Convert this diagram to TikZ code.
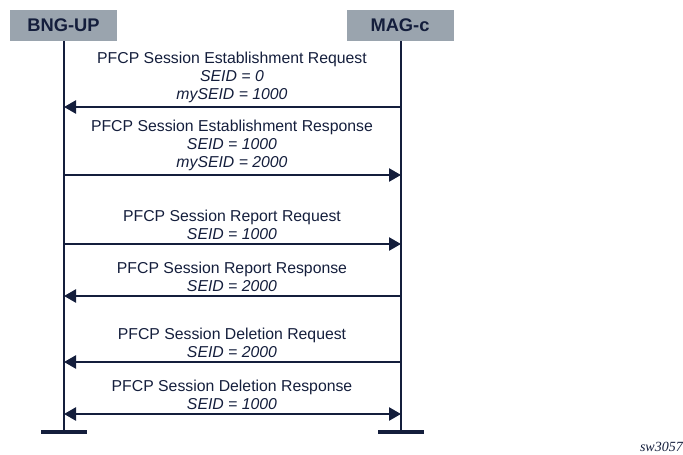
\documentclass[tikz,border=0pt]{standalone}
\usepackage{fontspec}
\setmainfont{Liberation Sans}
\newfontfamily\serifit{Liberation Serif}
\usetikzlibrary{arrows.meta}
\definecolor{navy}{HTML}{141E3C}
\definecolor{hdrgray}{HTML}{9AA4AE}
\tikzset{
  hdr/.style={fill=hdrgray, draw=none, minimum width=107pt, minimum height=31pt, inner sep=0pt, font=\fontsize{18.3}{20}\selectfont\bfseries, text=navy},
  life/.style={draw=navy, line width=2.8pt},
  foot/.style={draw=navy, line width=4.5pt},
  msg/.style={draw=navy, line width=2.4pt, -{Triangle[length=12pt,width=13pt]}},
  lbl/.style={font=\fontsize{15.8}{18}\selectfont, text=navy, align=center, inner sep=0pt, anchor=south}
}
\begin{document}
\begin{tikzpicture}[x=1pt,y=-1pt]
\useasboundingbox (0,0) rectangle (683,455);
\node[hdr] (bng) at (63.5,25.5) {BNG-UP};
\node[hdr] (mag) at (400,25.5) {MAG-c};
\coordinate (bngend) at (64,432);
\coordinate (magend) at (401,432);
\draw[life] (bng.south -| bngend) -- (bngend);
\draw[life] (mag.south -| magend) -- (magend);
\draw[foot] ([xshift=-23pt]bngend) -- ([xshift=23pt]bngend);
\draw[foot] ([xshift=-23pt]magend) -- ([xshift=23pt]magend);
\foreach \n/\y in {1/107,2/175,3/244,4/296,5/362,6/414}{
  \coordinate (b\n) at (64,\y);
  \coordinate (m\n) at (401,\y);
}
\draw[msg] (m1) -- (b1);
\draw[msg] (b2) -- (m2);
\draw[msg] (b3) -- (m3);
\draw[msg] (m4) -- (b4);
\draw[msg] (m5) -- (b5);
\draw[msg, {Triangle[length=12pt,width=13pt]}-{Triangle[length=12pt,width=13pt]}] (b6) -- (m6);
\node[lbl] (t1) at (232,103) {PFCP Session Establishment Request\\\textit{SEID = 0}\\\textit{mySEID = 1000}};
\node[lbl] (t2) at (232,171) {PFCP Session Establishment Response\\\textit{SEID = 1000}\\\textit{mySEID = 2000}};
\node[lbl] (t3) at (232,240) {PFCP Session Report Request\\\textit{SEID = 1000}};
\node[lbl] (t4) at (232,292) {PFCP Session Report Response\\\textit{SEID = 2000}};
\node[lbl] (t5) at (232,358) {PFCP Session Deletion Request\\\textit{SEID = 2000}};
\node[lbl] (t6) at (232,410) {PFCP Session Deletion Response\\\textit{SEID = 1000}};
\node[anchor=east, font=\serifit\itshape\fontsize{14}{15}\selectfont, text=navy, inner sep=0pt] (sw) at (683,447) {sw3057};
\end{tikzpicture}
\end{document}
